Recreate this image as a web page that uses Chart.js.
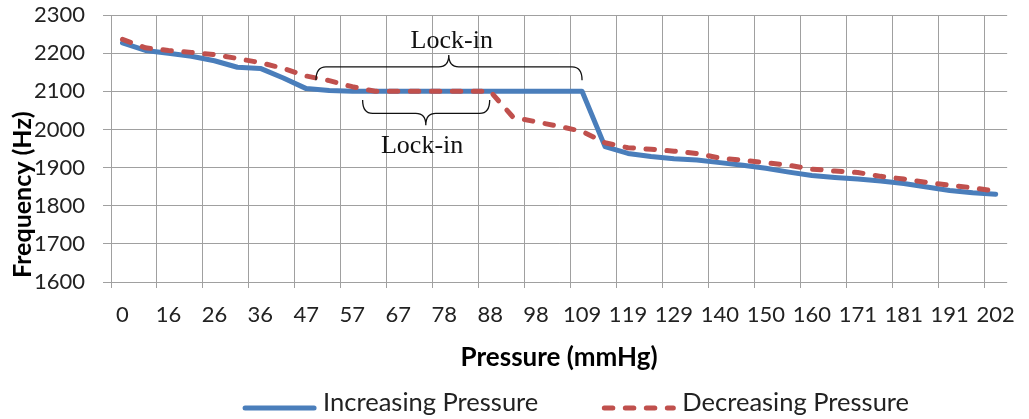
<!DOCTYPE html>
<html>
<head>
<meta charset="utf-8">
<script src="https://cdn.jsdelivr.net/npm/chart.js@4.4.0/dist/chart.umd.min.js"></script>
<style>
  html, body { margin: 0; padding: 0; background: #fff; }
  #wrap { width: 1029px; height: 419px; }
</style>
</head>
<body>
<div id="wrap"><canvas id="myChart" width="1029" height="419"></canvas></div>
<script>
// pressure steps (mmHg); only every second one gets a label on the axis
const pressure = [0, 10, 16, 21, 26, 31, 36, 41, 47, 52, 57, 62, 67, 72, 78, 83, 88, 93, 98, 103,
  109, 114, 119, 124, 129, 134, 140, 145, 150, 155, 160, 165, 171, 176, 181, 186, 191, 197, 202];

const increasing = [2227, 2207, 2200, 2192, 2180, 2163, 2160, 2135, 2107, 2102,
  2100, 2100, 2100, 2100, 2100, 2100, 2100, 2100, 2100, 2100,
  2100, 1955, 1937, 1929, 1923, 1920, 1913, 1906, 1898, 1888,
  1879, 1874, 1870, 1865, 1858, 1849, 1840, 1834, 1830];

const decreasing = [2236, 2214, 2207, 2202, 2196, 2186, 2175, 2160, 2140, 2128,
  2112, 2100, 2100, 2100, 2100, 2100, 2100, 2032, 2020, 2008,
  1995, 1965, 1952, 1948, 1943, 1937, 1925, 1919, 1913, 1906,
  1896, 1891, 1887, 1877, 1870, 1861, 1854, 1847, 1838];

const seriesNames = ['Increasing Pressure', 'Decreasing Pressure'];
const yMin = 1600, yMax = 2300, yStep = 100;

// lock-in braces, in category index / Hz units
const braces = [
  { from: 8.42, to: 20.0, tip: 14.2, end: 2129, bar: 2164, peak: 2195, text: 'Lock-in', tx: 14.33, ty: 2232 },
  { from: 10.45, to: 15.98, tip: 13.2, end: 2077, bar: 2042, peak: 2011, text: 'Lock-in', tx: 13.04, ty: 1956 }
];

const gridColor = '#a0a0a0';
const textColor = '#222';
const sans = 'Lato, "Open Sans", sans-serif';

function gridX(ctx) {
  // vertical lines only on the labelled categories
  return (ctx.index !== undefined && ctx.index % 2 === 0) ? gridColor : 'rgba(0,0,0,0)';
}

function drawBrace(ctx, xa, xb, xm, yEnd, yBar, yTip) {
  const r = 10;
  ctx.beginPath();
  ctx.moveTo(xa, yEnd);
  ctx.quadraticCurveTo(xa, yBar, xa + r, yBar);
  ctx.lineTo(xm - r, yBar);
  ctx.quadraticCurveTo(xm, yBar, xm, yTip);
  ctx.quadraticCurveTo(xm, yBar, xm + r, yBar);
  ctx.lineTo(xb - r, yBar);
  ctx.quadraticCurveTo(xb, yBar, xb, yEnd);
  ctx.stroke();
}

const lockIn = {
  id: 'lockIn',
  afterDatasetsDraw(chart) {
    const ctx = chart.ctx;
    const x = chart.scales.x, y = chart.scales.y;
    ctx.save();
    ctx.strokeStyle = '#111';
    ctx.lineWidth = 1.3;
    ctx.fillStyle = '#111';
    ctx.font = '26px "Liberation Serif", "Times New Roman", serif';
    ctx.textAlign = 'center';
    ctx.textBaseline = 'middle';
    braces.forEach(b => {
      drawBrace(ctx, x.getPixelForValue(b.from), x.getPixelForValue(b.to), x.getPixelForValue(b.tip),
        y.getPixelForValue(b.end), y.getPixelForValue(b.bar), y.getPixelForValue(b.peak));
      ctx.fillText(b.text, x.getPixelForValue(b.tx), y.getPixelForValue(b.ty));
    });
    ctx.restore();
  }
};

// y title sits over the tick labels like in the original, so it is drawn by hand
const yTitle = {
  id: 'yTitle',
  afterDraw(chart) {
    const ctx = chart.ctx;
    ctx.save();
    ctx.translate(23, chart.chartArea.bottom - 4);
    ctx.rotate(-Math.PI / 2);
    ctx.font = 'bold 25px ' + sans;
    ctx.fillStyle = '#000';
    ctx.textAlign = 'left';
    ctx.textBaseline = 'middle';
    ctx.fillText('Frequency (Hz)', 0, 0);
    ctx.restore();
  }
};

// legend with a long line sample for each series
const lineLegend = {
  id: 'lineLegend',
  afterDraw(chart) {
    const ctx = chart.ctx;
    const items = [chart.data.datasets[0], chart.data.datasets[1]];
    const lineLen = 73, gapText = 7, gapItem = 64;
    ctx.save();
    ctx.font = '25.5px ' + sans;
    let total = gapItem * (items.length - 1);
    items.forEach(d => { total += lineLen + gapText + ctx.measureText(d.label).width; });
    let x = (chart.chartArea.left + chart.chartArea.right) / 2 + 17 - total / 2;
    const y = chart.height - 16;
    items.forEach(d => {
      ctx.beginPath();
      ctx.strokeStyle = d.borderColor;
      ctx.lineWidth = d.borderWidth;
      ctx.lineCap = 'round';
      ctx.setLineDash(d.borderDash || []);
      ctx.moveTo(x + 2, y + 5);
      ctx.lineTo(x + lineLen - 2, y + 5);
      ctx.stroke();
      ctx.setLineDash([]);
      x += lineLen + gapText;
      ctx.fillStyle = textColor;
      ctx.textAlign = 'left';
      ctx.textBaseline = 'middle';
      ctx.fillText(d.label, x, y);
      x += ctx.measureText(d.label).width + gapItem;
    });
    ctx.restore();
  }
};

const ctx = document.getElementById('myChart').getContext('2d');
new Chart(ctx, {
  type: 'line',
  data: {
    labels: pressure,
    datasets: [
      {
        label: seriesNames[0],
        data: increasing,
        borderColor: 'rgb(74, 126, 187)',
        backgroundColor: 'rgb(74, 126, 187)',
        borderWidth: 5,
        borderCapStyle: 'round',
        borderJoinStyle: 'round',
        pointRadius: 0,
        tension: 0,
        order: 1
      },
      {
        label: seriesNames[1],
        data: decreasing,
        borderColor: 'rgb(192, 80, 77)',
        backgroundColor: 'rgb(192, 80, 77)',
        borderWidth: 5,
        borderDash: [8.5, 12.5],
        borderCapStyle: 'round',
        borderJoinStyle: 'round',
        pointRadius: 0,
        tension: 0,
        order: 0
      }
    ]
  },
  options: {
    responsive: false,
    animation: false,
    layout: { padding: { left: 0, right: 15, top: 15, bottom: 46 } },
    plugins: {
      legend: { display: false },
      tooltip: { enabled: false }
    },
    scales: {
      x: {
        offset: true,
        grid: { offset: true, color: gridX, tickLength: 6, lineWidth: 1 },
        border: { display: false },
        ticks: {
          autoSkip: false,
          maxRotation: 0,
          padding: 14,
          color: textColor,
          font: { family: sans, size: 22 },
          callback: (v, i) => (i % 2 === 0 ? pressure[i] : '')
        },
        title: {
          display: true,
          text: 'Pressure (mmHg)',
          color: '#000',
          font: { family: sans, size: 26, weight: 'bold' },
          padding: { top: 0, bottom: 0 }
        },
        afterFit: s => { s.height = 91; }
      },
      y: {
        min: yMin,
        max: yMax,
        ticks: {
          stepSize: yStep,
          padding: 18,
          color: textColor,
          font: { family: sans, size: 22 },
          callback: v => String(v)
        },
        grid: { color: gridColor, tickLength: 8, lineWidth: 1 },
        border: { display: false },
        // the tick padding would otherwise be added above the plot as well
        afterFit: s => { s.width = 111; s.paddingTop = 0; s.paddingBottom = 0; }
      }
    }
  },
  plugins: [lockIn, yTitle, lineLegend]
});
</script>
</body>
</html>
